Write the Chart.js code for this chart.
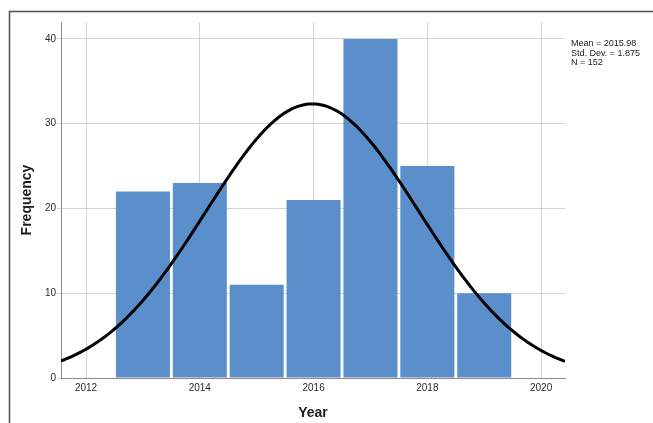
<!DOCTYPE html>
<html>
<head>
<meta charset="utf-8">
<script src="https://cdn.jsdelivr.net/npm/chart.js@4"></script>
<style>
  html, body { margin: 0; padding: 0; background: #ffffff; }
  #wrap { width: 653px; height: 423px; position: relative; }
</style>
</head>
<body>
<div id="wrap"><canvas id="chart" width="653" height="423"></canvas></div>
<script>
// Publication years (histogram bins, width 1 year) and their counts
const years = [2013, 2014, 2015, 2016, 2017, 2018, 2019];
const counts = [22, 23, 11, 21, 40, 25, 10];

// Summary statistics printed beside the plot
const statMean = 2015.98;
const statSD = 1.875;
const statN = 152;
const statLines = ['Mean = 2015.98', 'Std. Dev. = 1.875', 'N = 152'];

// Axis ranges and ticks
const xMin = 2011.56, xMax = 2020.42, xStep = 2;
const yMin = 0, yMax = 42, yStep = 10;

const FONT = "Arial, 'Liberation Sans', Helvetica, sans-serif";

// Fitted normal curve for the stated mean / std. dev. / N (bin width 1)
const binWidth = 1;
const curve = [];
for (let i = 0; i <= 200; i++) {
  const x = xMin + (xMax - xMin) * i / 200;
  const z = (x - statMean) / statSD;
  const y = statN * binWidth / (statSD * Math.sqrt(2 * Math.PI)) * Math.exp(-0.5 * z * z);
  curve.push({ x: x, y: y });
}

const frameAndStats = {
  id: 'frameAndStats',
  beforeDraw(chart) {
    const ctx = chart.ctx;
    ctx.save();
    ctx.fillStyle = '#ffffff';
    ctx.fillRect(0, 0, chart.width, chart.height);
    ctx.strokeStyle = '#505050';
    ctx.lineWidth = 1.5;
    ctx.beginPath();
    ctx.moveTo(9.5, chart.height);
    ctx.lineTo(9.5, 11.5);
    ctx.lineTo(chart.width, 11.5);
    ctx.stroke();
    ctx.restore();
  },
  afterDraw(chart) {
    const ctx = chart.ctx;
    ctx.save();
    ctx.fillStyle = '#222222';
    ctx.font = '9px ' + FONT;
    ctx.textBaseline = 'middle';
    ctx.textAlign = 'left';
    statLines.forEach((t, i) => ctx.fillText(t, chart.chartArea.right + 6, 44 + i * 9.5));
    ctx.restore();
  }
};

new Chart(document.getElementById('chart'), {
  type: 'bar',
  data: {
    datasets: [
      {
        type: 'line',
        label: 'Normal',
        data: curve,
        borderColor: '#000000',
        borderWidth: 3,
        pointRadius: 0,
        fill: false,
        tension: 0
      },
      {
        type: 'bar',
        label: 'Frequency',
        data: years.map((y, i) => ({ x: y, y: counts[i] })),
        backgroundColor: '#5b8fcb',
        borderWidth: 0,
        categoryPercentage: 1,
        barPercentage: 0.95
      }
    ]
  },
  options: {
    responsive: false,
    animation: false,
    layout: { padding: { top: 22, right: 88, bottom: 0, left: 0 } },
    plugins: { legend: { display: false }, tooltip: { enabled: false } },
    scales: {
      x: {
        type: 'linear',
        min: xMin,
        max: xMax,
        offset: false,
        grid: { color: '#d3d3d3', lineWidth: 1, drawTicks: false, offset: false },
        border: { color: '#8a8a8a', width: 1 },
        ticks: {
          stepSize: xStep,
          includeBounds: false,
          padding: 4,
          color: '#2a2a2a',
          font: { family: FONT, size: 10 },
          callback: v => String(v)
        },
        title: {
          display: true,
          text: 'Year',
          color: '#1a1a1a',
          font: { family: FONT, size: 14, weight: 'bold' },
          padding: { top: 0, bottom: 1.6 }
        },
        afterFit(scale) { scale.height = 45; }
      },
      y: {
        min: yMin,
        max: yMax,
        grid: { color: '#d3d3d3', lineWidth: 1, tickLength: 4 },
        border: { color: '#8a8a8a', width: 1 },
        ticks: {
          stepSize: yStep,
          includeBounds: false,
          padding: 1,
          color: '#2a2a2a',
          font: { family: FONT, size: 10 }
        },
        title: {
          display: true,
          text: 'Frequency',
          color: '#1a1a1a',
          font: { family: FONT, size: 14, weight: 'bold' },
          padding: { top: 18.6, bottom: 0 }
        },
        afterFit(scale) { scale.width = 61; }
      }
    }
  },
  plugins: [frameAndStats]
});
</script>
</body>
</html>
